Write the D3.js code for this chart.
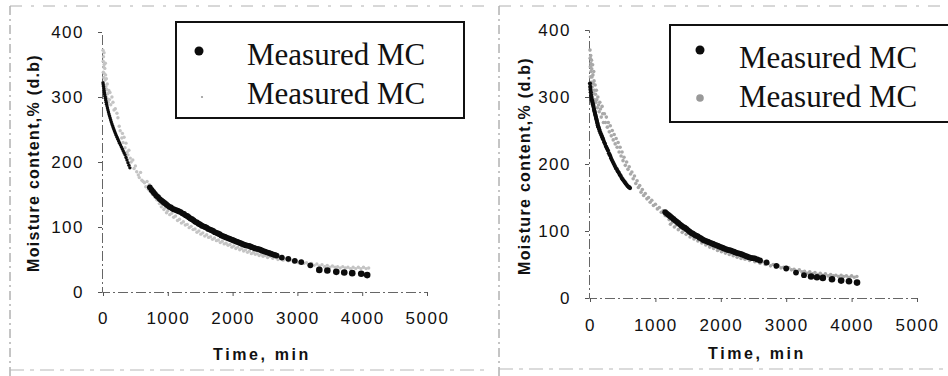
<!DOCTYPE html>
<html>
<head>
<meta charset="utf-8">
<script src="https://cdn.jsdelivr.net/npm/d3@7"></script>
<style>
  html, body { margin: 0; padding: 0; background: #fff; }
  svg { display: block; }
</style>
</head>
<body>
<svg id="chart" width="948" height="376"></svg>
<script>
// ---------------- DATA ----------------
const xTicks = [0, 1000, 2000, 3000, 4000, 5000];
const yTicks = [0, 100, 200, 300, 400];
const legendLabels = ["Measured MC", "Measured MC"];
const xTitle = "Time, min";
const yTitle = "Moisture content,% (d.b)";

// Left panel, black series [time (min), MC % d.b.]
const leftBlack = [[0,322],[4,319],[8,316],[12,313],[16,310],[21,307],[26,304],[31,301],[37,298],[43,295],[49,292],[55,289],[62,286],[69,283],[76,280],[84,277],[92,274],[100,271],[109,268],[118,265],[127,262],[137,259],[147,256],[157,253],[168,250],[180,247],[192,244],[204,241],[217,238],[230,235],[243,232],[256,229],[270,226],[284,223],[298,220],[312,217],[326,214],[340,211],[355,207],[370,203],[385,199],[400,195],[415,191],
[723,161],[750,157],[775,154],[800,151],[825,148],[850,146],[875,143],[900,141],[925,139],[950,137],[975,135],[1000,133],[1025,131],[1050,130],[1075,128],[1100,127],[1125,126],[1150,125],[1175,124],[1200,123],[1225,121],[1250,120],[1275,118],[1300,117],[1325,115],[1350,113],[1375,112],[1400,110],[1425,108],[1450,107],[1475,105],[1500,104],[1525,102],[1550,101],[1575,100],[1600,99],[1625,97],[1650,96],[1675,95],[1700,94],[1725,92],[1750,91],[1775,90],[1800,89],[1825,87],[1850,86],[1875,85],[1900,84],[1925,83],[1950,82],[1975,81],[2000,80],[2025,79],[2050,78],[2075,77],[2100,76],[2125,75],[2150,74],[2175,73],[2200,72],[2225,71.5],[2250,71],[2275,70],[2300,69],[2325,68],[2350,67],[2375,66.5],[2400,66],[2425,65],[2450,64],[2475,63],[2500,62],[2530,61],[2560,60],[2590,59],[2620,58],[2650,57],[2680,56],
[2760,53],[2860,51],[2960,48],[3060,46],[3200,41],[3338,34],[3462,33],[3600,31],[3723,30],[3846,29],[3985,28],[4077,26]];

// Left panel, grey series
const leftGrey = [[0,372],[3,355],[5,338],[6,320],[8,362],[10,346],[12,330],[14,312],[16,368],[18,350],[20,336],[22,318],[25,305],[28,344],[30,326],[33,310],[36,352],[40,334],[44,316],[48,300],[52,328],[56,312],[60,298],[66,320],[72,305],[80,292],[90,310],[100,296],[108,307],[120,288],[138,300],[154,292],[170,280],[190,282],[215,275],[230,268],
[250,255],[265,248],[290,237],[300,244],[310,230],[325,238],[340,222],[355,229],[370,215],[385,211],[400,218],[420,206],
[435,200],[460,203],[480,190],[500,194],[520,185],[545,180],[560,176],[580,184],[600,172],[620,170],
[640,168],[660,162],[680,170],[700,158],[715,165],[730,155],[750,160],[765,150],[780,156],[800,146],[815,152],[830,142],[850,147],[870,136],[885,140],[900,131],[920,135],[940,127],[960,130],[980,122],[1000,125],
[1030,119],[1060,121],[1090,115],[1120,117],[1150,110],[1180,112],[1210,106],[1240,108],[1270,103],[1300,104],[1330,99],[1360,101],[1390,96],[1420,97],[1450,92],[1480,94],[1510,89],[1540,91],[1570,86],[1600,88],[1630,84],[1660,85],[1690,81],[1720,83],[1750,79],[1780,80],[1810,76],[1840,78],[1870,74],[1900,75],[1930,72],[1960,73],[1990,69],[2020,71],[2050,67],[2080,69],[2110,65],[2140,67],[2170,63],[2200,65],[2230,61],[2260,63],[2290,59],[2320,61],[2350,58],[2380,59],[2410,56],[2440,58],[2470,55],[2500,56],[2540,53],[2580,55],[2620,52],[2660,53],[2700,50],[2740,52],[2780,49],[2820,51],[2860,48],[2900,49],[2940,46],[2980,48],[3020,45],[3060,47],[3100,44],[3140,45],[3180,42],[3220,44],[3260,41],[3300,43],[3340,40],[3380,42],[3420,39],[3460,41],[3500,38],[3540,40],[3580,38],[3620,39],[3660,37],[3700,39],[3740,37],[3780,38],[3820,36],[3860,38],[3900,36],[3940,38],[3980,36],[4020,38],[4060,36],[4100,37]];

// Right panel, black series
const rightBlack = [[0,320],[4,315],[8,311],[12,307],[16,303],[20,300],[25,297],[30,295],[35,293],[40,291],[45,289],[50,287],[55,285],[60,282],[65,280],[70,278],[75,276],[80,274],[85,272],[90,270],[95,268],[100,266],[105,264],[110,262],[115,260],[120,258],[125,256],[130,255],[140,252],[150,249],[162,246],[175,243],[187,240],[200,237],[215,233],[230,230],[245,226],[260,223],[275,220],[290,216],[305,213],[320,209],[335,206],[350,203],[365,200],[380,197],[395,194],[410,192],[425,189],[440,187],[455,184],[470,182],[485,179],[500,177],[515,175],[530,173],[545,171],[560,169],[575,167],[590,166],[600,165],[612,164],
[1150,128],[1175,126],[1200,124],[1225,122],[1250,120],[1275,118],[1300,116],[1325,114],[1350,112],[1375,110],[1400,108],[1425,106],[1450,105],[1475,103],[1500,101],[1525,99],[1550,97],[1575,96],[1600,94],[1625,93],[1650,92],[1675,90],[1700,89],[1725,87],[1750,86],[1775,85],[1800,84],[1825,83],[1850,82],[1875,81],[1900,80],[1925,79],[1950,78],[1975,77],[2000,76],[2025,75],[2050,74],[2075,73],[2100,72],[2125,71.5],[2150,71],[2175,70],[2200,69],[2225,68],[2250,67],[2275,66.5],[2300,66],[2325,65],[2350,64],[2375,63],[2400,62],[2430,61],[2460,60],[2490,59.5],[2520,59],[2560,57.5],[2600,56],
[2700,53],[2850,48],[3000,44],[3150,38],[3272,34],[3380,32],[3470,31],[3560,30],[3700,28],[3840,26],[3960,25],[4083,23]];

// Right panel, grey series
const rightGrey = [[0,370],[3,358],[5,345],[7,330],[9,316],[11,362],[13,350],[15,338],[18,322],[20,308],[23,355],[26,342],[30,330],[33,315],[36,300],[40,348],[44,333],[48,320],[52,305],[57,338],[62,324],[67,310],[72,296],[78,318],[84,304],[90,292],[97,310],[104,296],[112,284],[120,300],[130,288],[140,278],[150,292],[160,282],[172,270],[185,286],[195,275],[205,262],
[220,275],[235,262],[250,270],[265,255],[280,262],[295,248],[310,257],[325,242],[340,250],[355,236],[370,244],[385,230],[400,238],[415,225],[430,232],[445,218],[460,225],[475,212],[490,218],[505,205],[520,210],[540,198],[560,203],[580,192],[600,196],[620,185],[640,188],[660,178],[680,182],[700,171],[720,175],[740,165],[760,168],[780,158],[800,162],[820,153],[845,156],[870,148],[895,150],[920,143],[945,146],[970,138],[1000,140],[1030,133],[1060,135],[1090,128],[1120,130],[1150,123],[1180,125],
[1210,117],[1230,110],[1260,113],[1290,106],[1320,109],[1350,102],[1380,105],[1410,98],[1440,101],[1470,95],[1500,97],[1530,91],[1560,94],[1590,88],[1620,90],[1650,85],[1680,87],[1710,82],[1740,84],[1770,79],[1800,81],[1830,76],[1860,78],[1890,74],[1920,76],[1950,71],[1980,73],[2010,69],[2040,71],[2070,67],[2100,69],[2130,65],[2160,67],[2190,63],[2220,65],[2250,61],[2280,63],[2310,59],[2340,61],[2370,58],[2400,59],[2440,56],[2480,58],[2520,54],[2560,56],[2600,52],[2640,54],[2680,50],[2720,52],[2760,48],[2800,50],[2840,46],[2880,48],[2920,45],[2960,46],[3000,43],[3040,45],[3080,42],[3120,43],[3160,40],[3200,42],[3240,39],[3280,40],[3320,37],[3360,39],[3400,36],[3440,38],[3480,35],[3520,37],[3560,34],[3600,36],[3640,33],[3680,35],[3720,33],[3760,34],[3800,32],[3840,34],[3880,32],[3920,33],[3960,31],[4000,33],[4040,31],[4080,32]];

// ---------------- LAYOUT ----------------
const panels = [
  { black: leftBlack, grey: leftGrey, greyColor: "#c4c4c4", greyR: 1.7, earlyR: 1.7,
    x0: 103, x1: 427, y0: 292, y1: 32, axisX: 102,
    tickPadX: 16, yLabelX: 33, yLabelY: 163, xTitleX: 262, xTitleY: 360,
    legend: { x: 176, y: 22, w: 288, h: 96, mx: 199, my: [51, 97], tx: 247, ty: [65, 104], greyR: 1.1 },
    frame: { left: 10, top: 6, bottom: 370, right: 485 } },
  { black: rightBlack, grey: rightGrey, greyColor: "#a9a9a9", greyR: 1.8, earlyR: 2.1,
    x0: 590, x1: 917, y0: 298, y1: 30, axisX: 589,
    tickPadX: 17, yLabelX: 524, yLabelY: 166, xTitleX: 757, xTitleY: 359,
    legend: { x: 670, y: 25, w: 290, h: 97, mx: 700, my: [50, 98], tx: 739, ty: [68, 107], greyR: 3.8 },
    frame: { left: 499, top: 6, bottom: 369, right: 948 } }
];

const svg = d3.select("#chart");

panels.forEach(p => {
  const g = svg.append("g");

  // scanned-page frame (dashed)
  const fr = p.frame;
  g.append("line").attr("x1", fr.left).attr("x2", fr.left).attr("y1", fr.top).attr("y2", 376)
    .attr("stroke", "#8a8a8a").attr("stroke-width", 1).attr("stroke-dasharray", "9,4,2,4");
  g.append("line").attr("x1", fr.left).attr("x2", fr.right).attr("y1", fr.top).attr("y2", fr.top)
    .attr("stroke", "#b0b0b0").attr("stroke-width", 1).attr("stroke-dasharray", "12,9,3,9");
  g.append("line").attr("x1", fr.left).attr("x2", fr.right).attr("y1", fr.bottom).attr("y2", fr.bottom)
    .attr("stroke", "#b8b8b8").attr("stroke-width", 1.2).attr("stroke-dasharray", "14,6,4,6");

  const x = d3.scaleLinear().domain([0, 5000]).range([p.x0, p.x1]);
  const y = d3.scaleLinear().domain([0, 400]).range([p.y0, p.y1]);

  // axes
  const xAxis = d3.axisBottom(x).tickValues(xTicks).tickSize(4).tickPadding(p.tickPadX).tickFormat(d3.format("d"));
  const yAxis = d3.axisLeft(y).tickValues(yTicks).tickSize(4).tickPadding(14).tickFormat(d3.format("d"));

  const gx = g.append("g").attr("transform", `translate(0,${p.y0})`).call(xAxis);
  const gy = g.append("g").attr("transform", `translate(${p.axisX},0)`).call(yAxis);

  [gx, gy].forEach(a => {
    a.select(".domain").attr("stroke", "#666").attr("stroke-width", 1).attr("stroke-dasharray", "10,3,2,3");
    a.selectAll(".tick line").attr("stroke", "#555");
    a.selectAll(".tick text")
      .attr("fill", "#111")
      .style("font-family", "'Liberation Sans', Arial, sans-serif")
      .style("font-size", "17px")
      .style("letter-spacing", "1.5px");
  });

  // grey series
  g.append("g").selectAll("circle").data(p.grey).join("circle")
    .attr("cx", d => x(d[0])).attr("cy", d => y(d[1]))
    .attr("r", p.greyR).attr("fill", p.greyColor);

  // black series (thin early run, thick middle run, larger sparse end markers)
  g.append("g").selectAll("circle").data(p.black).join("circle")
    .attr("cx", d => x(d[0])).attr("cy", d => y(d[1]))
    .attr("r", d => d[0] < 700 ? p.earlyR : (d[0] > 3300 ? 3.3 : 2.9))
    .attr("fill", "#0c0c0c");

  // titles
  g.append("text").attr("x", p.xTitleX).attr("y", p.xTitleY)
    .attr("text-anchor", "middle").attr("fill", "#111")
    .style("font-family", "'Liberation Sans', Arial, sans-serif")
    .style("font-weight", "bold").style("font-size", "16px").style("letter-spacing", "2.6px")
    .text(xTitle);

  g.append("text")
    .attr("transform", `translate(${p.yLabelX},${p.yLabelY}) rotate(-90)`)
    .attr("text-anchor", "middle").attr("dominant-baseline", "central").attr("fill", "#111")
    .style("font-family", "'Liberation Sans', Arial, sans-serif")
    .style("font-weight", "bold").style("font-size", "16px").style("letter-spacing", "1.3px")
    .text(yTitle);

  // legend
  const L = p.legend;
  g.append("rect").attr("x", L.x).attr("y", L.y).attr("width", L.w).attr("height", L.h)
    .attr("fill", "#fff").attr("stroke", "#111").attr("stroke-width", 2);
  g.append("circle").attr("cx", L.mx).attr("cy", L.my[0]).attr("r", 4.5).attr("fill", "#0c0c0c");
  g.append("circle").attr("cx", L.mx + (L.greyR < 2 ? 3 : 0)).attr("cy", L.my[1]).attr("r", L.greyR).attr("fill", "#999");
  legendLabels.forEach((t, i) => {
    g.append("text").attr("x", L.tx).attr("y", L.ty[i]).attr("fill", "#111")
      .style("font-family", "'Liberation Serif', 'Times New Roman', serif")
      .style("font-size", "31px")
      .text(t);
  });
});
</script>
</body>
</html>
